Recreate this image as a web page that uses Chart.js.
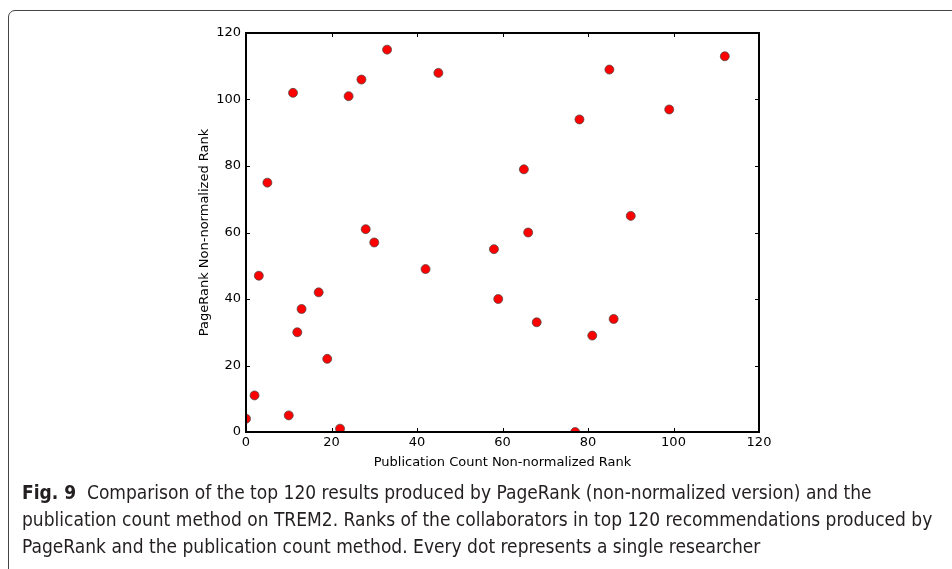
<!DOCTYPE html>
<html>
<head>
<meta charset="utf-8">
<script src="https://cdn.jsdelivr.net/npm/chart.js@4/dist/chart.umd.min.js"></script>
<style>
  body { margin: 0; background: #fff; width: 952px; height: 569px; overflow: hidden; position: relative; }
  #frame { position: absolute; left: 8px; top: 10px; width: 1000px; height: 620px; border: 1px solid #444; border-radius: 7px; }
  #chart { position: absolute; left: 0; top: 0; }
  #caption { position: absolute; left: 22px; top: 479px; font-family: "Liberation Sans Narrow", "DejaVu Sans Condensed", sans-serif; font-size: 19px; line-height: 27px; color: #231f20; white-space: nowrap; }
  #caption b { font-weight: bold; }
</style>
</head>
<body>
<div id="frame"></div>
<canvas id="chart" width="952" height="480"></canvas>
<div id="caption">
  <b>Fig. 9</b>&nbsp; Comparison of the top 120 results produced by PageRank (non-normalized version) and the<br>
  publication count method on TREM2. Ranks of the collaborators in top 120 recommendations produced by<br>
  PageRank and the publication count method. Every dot represents a single researcher
</div>
<script>
// publication count rank (x) vs PageRank rank (y)
var pubRank  = [0, 2, 3, 5, 10, 11, 12, 13, 17, 19, 22, 24, 27, 28, 30, 33, 42, 45, 58, 59, 65, 66, 68, 77, 78, 81, 85, 86, 90, 99, 112];
var pageRank = [4, 11, 47, 75, 5, 102, 30, 37, 42, 22, 1, 101, 106, 61, 57, 115, 49, 108, 55, 40, 79, 60, 33, 0, 94, 29, 109, 34, 65, 97, 113];
var tickVals = [0, 20, 40, 60, 80, 100, 120];

var points = [];
for (var i = 0; i < pubRank.length; i++) {
  points.push({x: pubRank[i], y: pageRank[i]});
}

// matplotlib style box + inward ticks on all four sides
var boxPlugin = {
  id: 'box',
  afterDraw: function(chart) {
    var ctx = chart.ctx, a = chart.chartArea;
    var xs = chart.scales.x, ys = chart.scales.y;
    ctx.save();
    ctx.strokeStyle = '#000';
    ctx.lineWidth = 1;
    tickVals.forEach(function(v) {
      var px = Math.round(xs.getPixelForValue(v)) + 0.5;
      var py = Math.round(ys.getPixelForValue(v)) + 0.5;
      ctx.beginPath();
      ctx.moveTo(px, a.bottom); ctx.lineTo(px, a.bottom - 4);
      ctx.moveTo(px, a.top); ctx.lineTo(px, a.top + 4);
      ctx.moveTo(a.left, py); ctx.lineTo(a.left + 4, py);
      ctx.moveTo(a.right, py); ctx.lineTo(a.right - 4, py);
      ctx.stroke();
    });
    ctx.lineWidth = 2;
    ctx.strokeRect(a.left, a.top, a.right - a.left, a.bottom - a.top);
    ctx.restore();
  }
};

var tickFont = {family: 'DejaVu Sans', size: 13};

new Chart(document.getElementById('chart').getContext('2d'), {
  type: 'scatter',
  data: {
    datasets: [{
      data: points,
      pointRadius: 4.5,
      pointHoverRadius: 4.5,
      backgroundColor: '#ff0000',
      borderColor: '#444',
      borderWidth: 0.7
    }]
  },
  options: {
    responsive: false,
    animation: false,
    layout: {padding: {top: 33, right: 193, left: 0, bottom: 0}},
    plugins: {legend: {display: false}, tooltip: {enabled: false}},
    scales: {
      x: {
        type: 'linear', min: 0, max: 120,
        afterFit: function(s) { s.height = 48; },
        afterBuildTicks: function(s) { s.ticks = tickVals.map(function(v) { return {value: v}; }); },
        grid: {display: false, drawTicks: false},
        border: {display: false},
        ticks: {color: '#000', font: tickFont, padding: 3, maxRotation: 0},
        title: {display: true, text: 'Publication Count Non-normalized Rank', color: '#000', font: tickFont, padding: {top: 0, bottom: 10}}
      },
      y: {
        type: 'linear', min: 0, max: 120,
        afterFit: function(s) { s.width = 246; },
        afterBuildTicks: function(s) { s.ticks = tickVals.map(function(v) { return {value: v}; }); },
        grid: {display: false, drawTicks: false},
        border: {display: false},
        ticks: {color: '#000', font: tickFont, padding: 5},
        title: {display: true, text: 'PageRank Non-normalized Rank', color: '#000', font: tickFont, padding: {top: 197, bottom: 0}}
      }
    }
  },
  plugins: [boxPlugin]
});
</script>
</body>
</html>
